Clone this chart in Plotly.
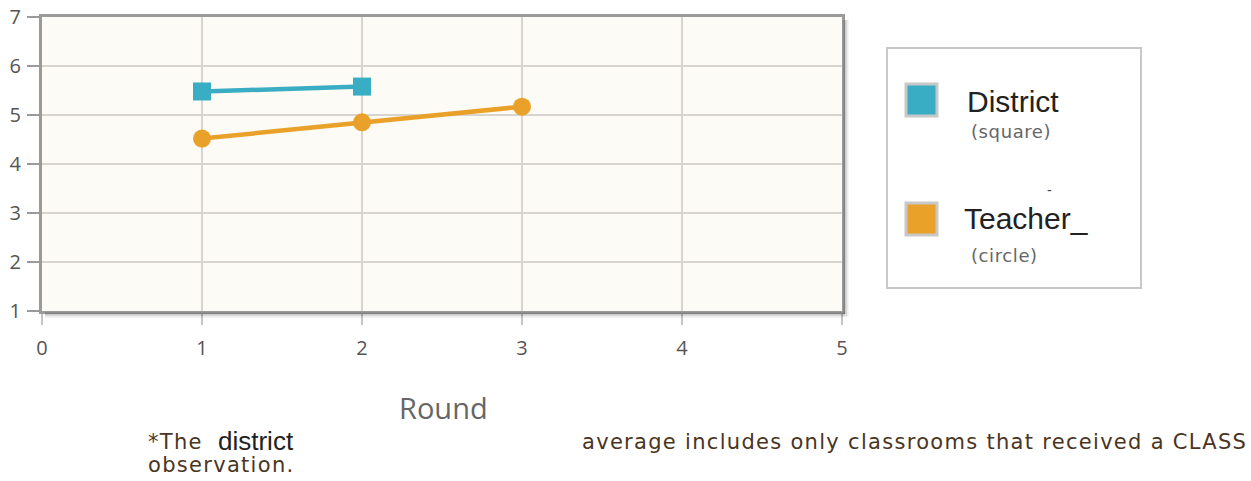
import plotly.graph_objects as go

# Rounds and scores
district_rounds = [1, 2]
district_scores = [5.48, 5.58]
teacher_rounds = [1, 2, 3]
teacher_scores = [4.52, 4.85, 5.17]

x_ticks = [0, 1, 2, 3, 4, 5]
y_ticks = [1, 2, 3, 4, 5, 6, 7]

W, H = 1251, 481
L, R, T, B = 42, 842, 17, 311  # plot area in pixels


def px(x):
    return (x - L) / (R - L)


def py(y):
    return (B - y) / (B - T)


TEAL = "#39adc3"
ORANGE = "#e9a12a"

fig = go.Figure()
fig.add_trace(go.Scatter(
    x=district_rounds, y=district_scores, mode="lines+markers",
    line=dict(color=TEAL, width=4.5),
    marker=dict(symbol="square", size=18, color=TEAL),
    showlegend=False, hoverinfo="x+y",
))
fig.add_trace(go.Scatter(
    x=teacher_rounds, y=teacher_scores, mode="lines+markers",
    line=dict(color=ORANGE, width=4.5),
    marker=dict(symbol="circle", size=18, color=ORANGE),
    showlegend=False, hoverinfo="x+y",
))

tick_font = dict(family="Open Sans, Lato, sans-serif", size=20, color="#555")

fig.update_layout(
    width=W, height=H,
    margin=dict(l=L, r=W - R, t=T, b=H - B, autoexpand=False),
    paper_bgcolor="white",
    plot_bgcolor="#fdfbf5",
    showlegend=False,
    xaxis=dict(
        range=[0, 5], tickvals=x_ticks, showgrid=True, gridcolor="#d8d5d0", gridwidth=1.5,
        zeroline=False, showline=True, linecolor="#9a9a9a", linewidth=3, mirror=True,
        ticks="outside", ticklen=11, tickcolor="#c4c4c4", tickwidth=2,
        ticklabelstandoff=6, tickfont=tick_font, automargin=False,
    ),
    yaxis=dict(
        range=[1, 7], tickvals=y_ticks, showgrid=True, gridcolor="#d8d5d0", gridwidth=1.5,
        zeroline=False, showline=True, linecolor="#9a9a9a", linewidth=3, mirror=True,
        ticks="outside", ticklen=12, tickcolor="#9a9a9a", tickwidth=2,
        ticklabelstandoff=2, tickfont=tick_font, automargin=False,
    ),
)

shapes = []
annotations = []

# soft drop shadow along the bottom and right of the frame
for off, alpha in [(3, 0.16), (5, 0.08)]:
    shapes.append(dict(type="line", xref="paper", yref="paper",
                       x0=px(L + 3), x1=px(R + off), y0=py(B + off), y1=py(B + off),
                       line=dict(color=f"rgba(0,0,0,{alpha})", width=3)))
    shapes.append(dict(type="line", xref="paper", yref="paper",
                       x0=px(R + off), x1=px(R + off), y0=py(T + 3), y1=py(B + off),
                       line=dict(color=f"rgba(0,0,0,{alpha})", width=3)))

# legend box
shapes.append(dict(type="rect", xref="paper", yref="paper",
                   x0=px(887), x1=px(1141), y0=py(288), y1=py(48),
                   line=dict(color="#c8c8c8", width=2), fillcolor="white"))
# legend swatches
for y0, y1, col in [(84, 116, TEAL), (203, 235, ORANGE)]:
    shapes.append(dict(type="rect", xref="paper", yref="paper",
                       x0=px(906), x1=px(937), y0=py(y1), y1=py(y0),
                       line=dict(color="#c8c8c8", width=3), fillcolor=col))

big = dict(family="Liberation Sans, Arial, sans-serif", size=30, color="#222")
small = dict(family="DejaVu Sans, Verdana, sans-serif", size=18, color="#666")


def spaced(s, gap):
    return f'<span style="letter-spacing:{gap}px">{s}</span>'


annotations += [
    dict(text="District", x=px(965), y=py(101), xanchor="left", yanchor="middle", font=big),
    dict(text=spaced("(square)", 0.6), x=px(969), y=py(131), xanchor="left", yanchor="middle", font=small),
    dict(text="-", x=px(1049), y=py(190), xanchor="center", yanchor="middle",
         font=dict(family="Liberation Sans, Arial", size=14, color="#444")),
    dict(text="Teacher_", x=px(962), y=py(218), xanchor="left", yanchor="middle", font=big),
    dict(text=spaced("(circle)", 0.6), x=px(969), y=py(255), xanchor="left", yanchor="middle", font=small),
]

# axis title
annotations.append(dict(text="Round", x=px(443), y=py(407), xanchor="center", yanchor="middle",
                        font=dict(family="Open Sans, Lato, sans-serif", size=29, color="#666")))

# footnote
note = dict(family="DejaVu Sans, Verdana, sans-serif", size=21, color="#4a3522")
annotations += [
    dict(text=spaced("*The", 1.3), x=px(146), y=py(442), xanchor="left", yanchor="middle", font=note),
    dict(text="district", x=px(216), y=py(441), xanchor="left", yanchor="middle",
         font=dict(family="Liberation Sans, Arial, sans-serif", size=26, color="#222")),
    dict(text=spaced("average includes only classrooms that received a CLASS", 1.3),
         x=px(580), y=py(442), xanchor="left", yanchor="middle", font=note),
    dict(text=spaced("observation.", 1.3), x=px(146), y=py(465), xanchor="left", yanchor="middle", font=note),
]
for a in annotations:
    a.update(xref="paper", yref="paper", showarrow=False)

fig.update_layout(shapes=shapes, annotations=annotations)
fig.write_html("out.html")
